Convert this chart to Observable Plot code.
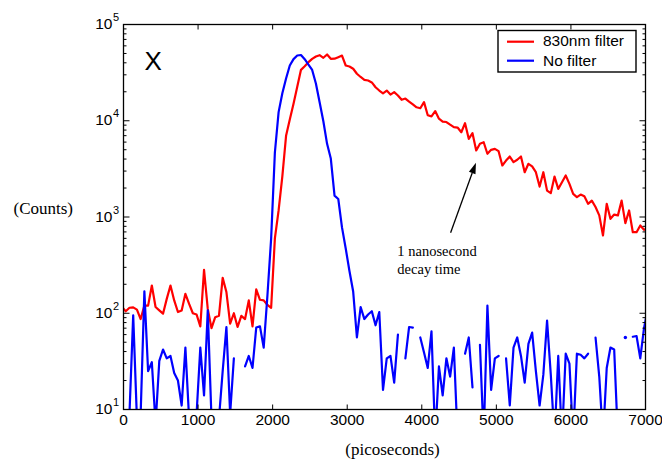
<!DOCTYPE html>
<html><head><meta charset="utf-8">
<script src="https://cdn.jsdelivr.net/npm/d3@7"></script>
<script src="https://cdn.jsdelivr.net/npm/@observablehq/plot@0.6"></script>
<style>body{margin:0;background:#fff;} svg{display:block}</style>
</head><body>
<script>
// sample times (picoseconds)
const times = [-20,30,80,130,180,230,280,330,380,430,480,530,580,630,680,730,780,830,880,930,980,1030,1080,1130,1180,1230,1280,1330,1380,1430,1480,1530,1580,1630,1680,1730,1780,1830,1880,1930,1980,2030,2080,2130,2180,2230,2280,2330,2380,2430,2480,2530,2580,2630,2680,2730,2780,2830,2880,2930,2980,3030,3080,3130,3180,3230,3280,3330,3380,3430,3480,3530,3580,3630,3680,3730,3780,3830,3880,3930,3980,4030,4080,4130,4180,4230,4280,4330,4380,4430,4480,4530,4580,4630,4680,4730,4780,4830,4880,4930,4980,5030,5080,5130,5180,5230,5280,5330,5380,5430,5480,5530,5580,5630,5680,5730,5780,5830,5880,5930,5980,6030,6080,6130,6180,6230,6280,6330,6380,6430,6480,6530,6580,6630,6680,6730,6780,6830,6880,6930,6980,7030];

// 830nm filter counts
const filtered = [116,105,114,115,109,87,120,120,194,116,
107,99,141,194,136,103,107,159,125,100,
97,73,283,111,70,91,94,233,166,78,
100,72,94,87,136,73,177,138,136,122,
114,600,1170,2650,6970,10300,15000,22500,33800,36900,
40600,44000,46500,48000,45100,48800,44000,44100,45800,47600,
37500,36600,34700,30800,28500,26600,26200,25000,22300,20600,
19300,20600,18700,19800,18300,16500,17000,15800,14800,13800,
13500,15600,11400,11100,12600,10500,9800,9700,9100,8580,
8500,7600,9440,6490,7430,4910,5760,5980,4540,4990,
5100,4830,3430,3860,4250,3720,3930,4250,2920,3570,
3350,2920,2070,2920,1880,1770,2630,1960,2300,2700,
2210,1740,1610,1710,1640,1370,1480,1270,1040,643,
1370,957,1060,1040,1480,864,1170,695,695,817,
736,760];

// No filter counts (null = zero count, not drawn on log axis)
const unfiltered = [3,3,9,95,8,9,169,25,31,7,
32,42,34,36,24,20,11,44,8,3,
9,44,14,107,8,3,8,25,72,9,
34,null,null,28,36,27,71,73,44,153,
600,4680,12300,19300,27500,37500,43700,47600,48200,43600,
38400,33700,24400,15600,9890,5760,4050,1670,1540,780,
470,275,168,56,116,87,97,105,75,103,
16,34,36,19,60,null,34,72,71,null,
56,39,27,65,5,28,14,34,22,44,
5,null,38,56,17,null,47,5,120,16,
34,36,null,34,11,44,56,36,19,48,
63,25,11,23,84,23,5,36,5,38,
30,5,38,37,34,38,null,56,22,5,
27,44,42,5,null,56,null,57,58,34,
70,110];

const seriesNames = ["830nm filter", "No filter"];
const seriesColors = ["#ff0000", "#0000ff"];
const xTicks = [0,1000,2000,3000,4000,5000,6000,7000];
const yTicks = [10,100,1000,10000,100000];
const yMinor = [];
for (const d of [10,100,1000,10000]) for (let m = 2; m <= 9; m++) yMinor.push(d * m);

const note = {t: 3672, counts: 525, label: "1 nanosecond\ndecay time"};
const arrowFrom = {t: 4393, counts: 679};
const arrowTo = {t: 4733, counts: 3620};

const rows = times.map((t, i) => ({t, filtered: filtered[i], unfiltered: unfiltered[i]}));
const isolated = rows.filter((d, i) => d.unfiltered != null &&
  (i === 0 || rows[i-1].unfiltered == null) && (i === rows.length-1 || rows[i+1].unfiltered == null));

const sans = "Liberation Sans, Arial, sans-serif";
const serif = "Liberation Serif, Times New Roman, serif";
const tickShape = {draw(ctx, l) { ctx.moveTo(0, 0); ctx.lineTo(0, -l); }};
const tk = {shape: tickShape, anchor: "start", stroke: "black", fill: "none", strokeWidth: 1, strokeLinecap: "butt"};

const chart = Plot.plot({
  width: 662, height: 463,
  marginLeft: 123, marginRight: 17, marginTop: 24, marginBottom: 54,
  style: {fontFamily: sans, background: "white", color: "black"},
  x: {domain: [0, 7000], axis: null},
  y: {type: "log", domain: [10, 100000], axis: null},
  marks: [
    Plot.line(rows, {x: "t", y: "filtered", stroke: seriesColors[0], strokeWidth: 2.2, clip: true}),
    Plot.line(rows, {x: "t", y: "unfiltered", stroke: seriesColors[1], strokeWidth: 2.2, clip: true}),
    Plot.dot(isolated, {x: "t", y: "unfiltered", r: 1.7, fill: seriesColors[1], stroke: null}),
    Plot.frame({stroke: "black", strokeWidth: 1.3}),
    // inward ticks
    Plot.vectorY(yTicks, {...tk, frameAnchor: "left", length: 6, rotate: 90}),
    Plot.vectorY(yTicks, {...tk, frameAnchor: "right", length: 6, rotate: -90}),
    Plot.vectorY(yMinor, {...tk, frameAnchor: "left", length: 3, rotate: 90}),
    Plot.vectorY(yMinor, {...tk, frameAnchor: "right", length: 3, rotate: -90}),
    Plot.vectorX(xTicks, {...tk, frameAnchor: "bottom", length: 5, rotate: 0}),
    Plot.vectorX(xTicks, {...tk, frameAnchor: "top", length: 5, rotate: 180}),
    // tick labels
    Plot.text(xTicks, {x: d => d, frameAnchor: "bottom", lineAnchor: "bottom", dy: 15.5, fontSize: 15.5, fill: "black", text: d => String(d)}),
    Plot.text(yTicks, {y: d => d, frameAnchor: "left", lineAnchor: "bottom", textAnchor: "end", dx: -11, dy: 4.5, fontSize: 15.5, fill: "black", text: () => "10"}),
    Plot.text(yTicks, {y: d => d, frameAnchor: "left", lineAnchor: "bottom", textAnchor: "start", dx: -10.5, dy: -3.5, fontSize: 11, fill: "black", text: d => String(Math.round(Math.log10(d)))}),
    // axis labels
    Plot.text(["(picoseconds)"], {frameAnchor: "bottom", lineAnchor: "bottom", dx: 8, dy: 45.5, fontSize: 17, fontFamily: serif, fill: "black"}),
    Plot.text(["(Counts)"], {frameAnchor: "left", lineAnchor: "bottom", textAnchor: "start", dx: -110, dy: -3, fontSize: 17, fontFamily: serif, fill: "black"}),
    Plot.text(["X"], {frameAnchor: "top-left", lineAnchor: "bottom", textAnchor: "start", dx: 21, dy: 45, fontSize: 26, fill: "black"}),
    // annotation
    Plot.text([note], {x: "t", y: "counts", text: "label", textAnchor: "start", lineAnchor: "top", lineHeight: 1.22, fontSize: 14.5, fontFamily: serif, fill: "black"})
  ]
});
document.body.appendChild(chart);

// arrow (positions through the chart's scales)
const sx = chart.scale("x"), sy = chart.scale("y");
const svg = d3.select(chart);
const X1 = sx.apply(arrowFrom.t), Y1 = sy.apply(arrowFrom.counts);
const X2 = sx.apply(arrowTo.t), Y2 = sy.apply(arrowTo.counts);
const len = Math.hypot(X2 - X1, Y2 - Y1), ux = (X2 - X1) / len, uy = (Y2 - Y1) / len;
const hl = 11, hw = 3.5;
const bx = X2 - ux * hl, by = Y2 - uy * hl;
svg.append("line").attr("x1", X1).attr("y1", Y1).attr("x2", bx).attr("y2", by)
  .attr("stroke", "black").attr("stroke-width", 1.3);
svg.append("path").attr("d", `M${X2},${Y2}L${bx - uy * hw},${by + ux * hw}L${bx + uy * hw},${by - ux * hw}Z`)
  .attr("fill", "black");

// legend box
const lg = svg.append("g").attr("font-family", sans).attr("font-size", 15.5).attr("text-anchor", "start");
lg.append("rect").attr("x", 498).attr("y", 30.5).attr("width", 138).attr("height", 41.5)
  .attr("fill", "white").attr("stroke", "black").attr("stroke-width", 1.4);
seriesNames.forEach((name, i) => {
  const yy = 41.7 + i * 19;
  lg.append("line").attr("x1", 507).attr("x2", 534).attr("y1", yy).attr("y2", yy)
    .attr("stroke", seriesColors[i]).attr("stroke-width", 2.2);
  lg.append("text").attr("x", 543).attr("y", yy + 4.3 + i * 0.5).attr("text-anchor", "start")
    .attr("fill", "black").text(name);
});
</script>
</body></html>
